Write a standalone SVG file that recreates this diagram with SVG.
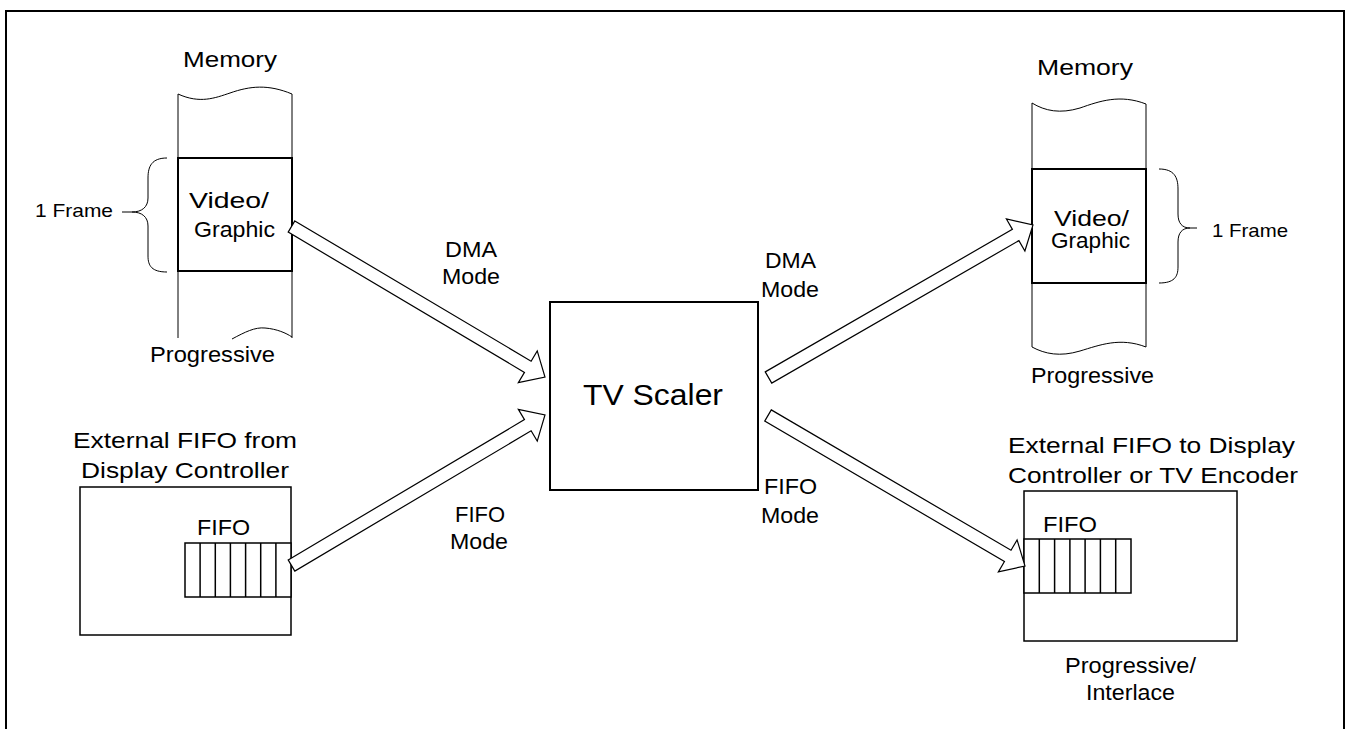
<svg xmlns="http://www.w3.org/2000/svg" width="1347" height="729" viewBox="0 0 1347 729">
<style>
text{font-family:"Liberation Sans",Arial,sans-serif;fill:#000}
.t22{font-size:22px}
.t19{font-size:19px}
.t30{font-size:30px}
.thin{fill:none;stroke:#000;stroke-width:1}
.box{fill:#fff;stroke:#000;stroke-width:2}
.mid{fill:#fff;stroke:#000;stroke-width:1.5}
.arrow{fill:#fff;stroke:#000;stroke-width:1.2;stroke-linejoin:miter}
</style>
<rect width="1347" height="729" fill="#fff"/>
<path d="M6,740 V11 H1344 V740" fill="none" stroke="#000" stroke-width="2"/>

<g id="memory-left">
<text class="t22" x="183" y="67" textLength="94" lengthAdjust="spacingAndGlyphs">Memory</text>
<path class="thin" d="M178,94 C200,104 215,98 230,93 C250,86 268,84 292,94"/>
<line class="thin" x1="178" y1="94" x2="178" y2="338"/>
<line class="thin" x1="292" y1="94" x2="292" y2="338"/>
<path class="thin" d="M232,339 C245,332 255,327 265,328 C277,329 286,333 292,337"/>
<rect class="box" x="178" y="158" width="114" height="113"/>
<text class="t22" x="189" y="208" textLength="80" lengthAdjust="spacingAndGlyphs">Video/</text>
<text class="t22" x="194" y="237" textLength="81" lengthAdjust="spacingAndGlyphs">Graphic</text>
<path class="thin" d="M167,158 C152,158 148,166 148,178 L148,198 C148,207 142,212 132,212 C142,212 148,217 148,226 L148,256 C148,266 152,272 167,272 M122,212 H132"/>
<text class="t19" x="35" y="217" textLength="78" lengthAdjust="spacingAndGlyphs">1 Frame</text>
<text class="t22" x="150" y="362" textLength="125" lengthAdjust="spacingAndGlyphs">Progressive</text>
</g>

<g id="fifo-left">
<text class="t22" x="73" y="448" textLength="224" lengthAdjust="spacingAndGlyphs">External FIFO from</text>
<text class="t22" x="81" y="478" textLength="208" lengthAdjust="spacingAndGlyphs">Display Controller</text>
<rect class="mid" x="80" y="487" width="211" height="148"/>
<text class="t22" x="197" y="535" textLength="53" lengthAdjust="spacingAndGlyphs">FIFO</text>
<rect class="mid" x="185" y="543" width="106" height="54"/>
<path class="mid" d="M200.1,543 V597 M215.3,543 V597 M230.4,543 V597 M245.6,543 V597 M260.7,543 V597 M275.9,543 V597"/>
</g>

<g id="tv-scaler">
<rect class="box" x="550" y="302" width="208" height="188"/>
<text class="t30" x="583" y="405" textLength="140" lengthAdjust="spacingAndGlyphs">TV Scaler</text>
</g>

<g id="memory-right">
<text class="t22" x="1037" y="75" textLength="96" lengthAdjust="spacingAndGlyphs">Memory</text>
<path class="thin" d="M1032,103 C1045,111 1060,114 1080,108 C1100,101 1120,94 1146,104"/>
<line class="thin" x1="1032" y1="103" x2="1032" y2="347"/>
<line class="thin" x1="1146" y1="104" x2="1146" y2="347"/>
<path class="thin" d="M1032,347 C1045,354 1060,357 1080,351 C1100,345 1120,337 1146,347"/>
<rect class="box" x="1032" y="169" width="114" height="114"/>
<text class="t22" x="1054" y="226" textLength="75" lengthAdjust="spacingAndGlyphs">Video/</text>
<text class="t22" x="1051" y="248" textLength="79" lengthAdjust="spacingAndGlyphs">Graphic</text>
<path class="thin" d="M1159,169 C1174,169 1178,177 1178,189 L1178,214 C1178,223 1182,228 1190,228 C1182,228 1178,233 1178,242 L1178,267 C1178,277 1174,283 1159,283 M1190,228 H1197"/>
<text class="t19" x="1212" y="237" textLength="76" lengthAdjust="spacingAndGlyphs">1 Frame</text>
<text class="t22" x="1031" y="383" textLength="123" lengthAdjust="spacingAndGlyphs">Progressive</text>
</g>

<g id="fifo-right">
<text class="t22" x="1008" y="453" textLength="287" lengthAdjust="spacingAndGlyphs">External FIFO to Display</text>
<text class="t22" x="1008" y="483" textLength="290" lengthAdjust="spacingAndGlyphs">Controller or TV Encoder</text>
<rect class="mid" x="1024" y="491" width="213" height="150"/>
<text class="t22" x="1043" y="532" textLength="54" lengthAdjust="spacingAndGlyphs">FIFO</text>
<rect class="mid" x="1024" y="539" width="107" height="54"/>
<path class="mid" d="M1039.3,539 V593 M1054.6,539 V593 M1069.9,539 V593 M1085.1,539 V593 M1100.4,539 V593 M1115.7,539 V593"/>
<text class="t22" x="1065" y="673" textLength="131" lengthAdjust="spacingAndGlyphs">Progressive/</text>
<text class="t22" x="1086" y="700" textLength="89" lengthAdjust="spacingAndGlyphs">Interlace</text>
</g>

<g id="connectors">
<polygon class="arrow" transform="translate(291.5,226.5) rotate(30.7)" points="0,-6.5 274.8,-6.5 274.8,-18.5 294.8,0 274.8,18.5 274.8,6.5 0,6.5"/>
<polygon class="arrow" transform="translate(291.5,565.5) rotate(-30.7)" points="0,-6.5 274.8,-6.5 274.8,-18.5 294.8,0 274.8,18.5 274.8,6.5 0,6.5"/>
<polygon class="arrow" transform="translate(768.5,377.5) rotate(-29.97)" points="0,-6.5 285.3,-6.5 285.3,-18.5 305.3,0 285.3,18.5 285.3,6.5 0,6.5"/>
<polygon class="arrow" transform="translate(768,415.5) rotate(30.35)" points="0,-6.5 277.8,-6.5 277.8,-18.5 297.8,0 277.8,18.5 277.8,6.5 0,6.5"/>
<text class="t22" x="445" y="257" textLength="52" lengthAdjust="spacingAndGlyphs">DMA</text>
<text class="t22" x="442" y="284" textLength="58" lengthAdjust="spacingAndGlyphs">Mode</text>
<text class="t22" x="455" y="522" textLength="50" lengthAdjust="spacingAndGlyphs">FIFO</text>
<text class="t22" x="450" y="549" textLength="58" lengthAdjust="spacingAndGlyphs">Mode</text>
<text class="t22" x="765" y="268" textLength="51" lengthAdjust="spacingAndGlyphs">DMA</text>
<text class="t22" x="761" y="297" textLength="58" lengthAdjust="spacingAndGlyphs">Mode</text>
<text class="t22" x="764" y="494" textLength="53" lengthAdjust="spacingAndGlyphs">FIFO</text>
<text class="t22" x="761" y="523" textLength="58" lengthAdjust="spacingAndGlyphs">Mode</text>
</g>
</svg>
